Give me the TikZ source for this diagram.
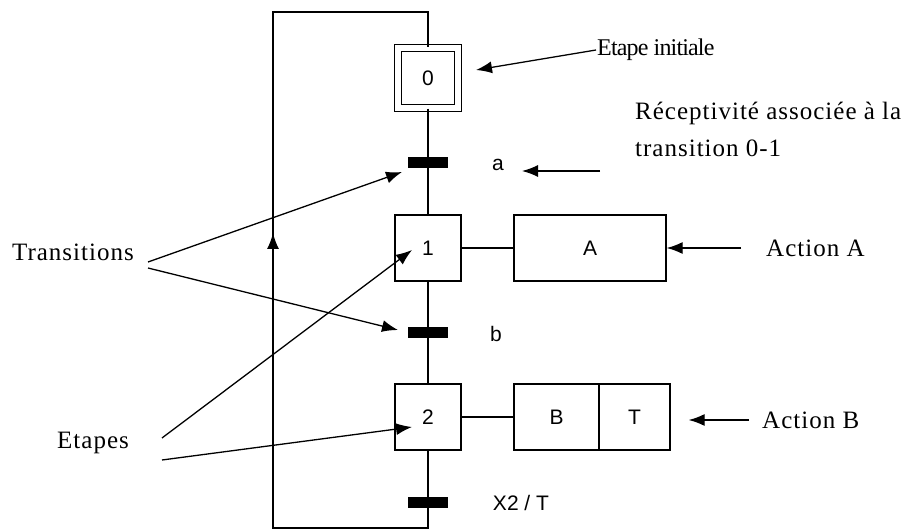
\documentclass[tikz,border=0pt]{standalone}
\usepackage{fontspec}
\setmainfont{Liberation Serif}
\setsansfont{Liberation Sans}
\usetikzlibrary{arrows.meta}

\tikzset{
  lien/.style={line width=1.3pt},
  fleche/.style={line width=1.3pt,-{Latex[length=16pt,width=12pt]}},
  etape/.style={draw,line width=1.3pt,minimum width=66pt,minimum height=66pt,inner sep=0pt,
    font=\sffamily\fontsize{21}{25}\selectfont},
  etapeinit/.style={etape,minimum width=60pt,minimum height=60pt,double,double distance=5.5pt},
  trans/.style={fill=black,minimum width=40pt,minimum height=11pt,inner sep=0pt},
  action/.style={draw,line width=1.3pt,minimum height=66pt,inner sep=0pt,
    font=\sffamily\fontsize{21}{25}\selectfont},
  recep/.style={inner sep=1pt,font=\sffamily\fontsize{21}{25}\selectfont},
  note/.style={inner sep=1pt,font=\fontsize{25}{37}\selectfont\addfontfeature{LetterSpace=4}}
}

\begin{document}
\begin{tikzpicture}[x=1pt,y=1pt,yscale=-1]
\useasboundingbox (0,0) rectangle (913,529);

\node[etapeinit] (e0) at (428,78) {0};
\node[etape] (e1) at (428,248) {1};
\node[etape] (e2) at (428,417) {2};
\node[action,minimum width=152pt] (actA) at (590,248) {A};
\node[action,minimum width=85pt] (actB) at (556.5,417) {B};
\node[action,minimum width=71pt] (actT) at (634.5,417) {T};

\coordinate (bd) at (428,528);
\coordinate (bg) at (273,528);
\coordinate (hg) at (273,12);
\coordinate (hd) at (428,12);
\coordinate (mg) at (273,233);

\draw[lien] (e0) -- (e1);
\draw[lien] (e1) -- (e2);
\draw[lien] (e2) -- (bd) -- (bg) -- (hg) -- (hd) -- (e0);
\draw[fleche] (bg) -- (mg);
\draw[lien] (e1) -- (actA);
\draw[lien] (e2) -- (actB);

\node[trans] (t01) at (428,162.5) {};
\node[trans] (t12) at (428,332.5) {};
\node[trans] (t20) at (428,502.5) {};

\node[recep] (la) at (498,165) {a};
\node[recep] (lb) at (496,334) {b};
\node[recep] (lx) at (521,503) {X2 / T};

\node[note,anchor=west,font=\fontsize{24}{28}\selectfont\addfontfeature{LetterSpace=-3.5}] (lblinit) at (596,50) {Etape initiale};
\node[note,anchor=north west,align=left] (lblrecep) at (634,101) {Réceptivité associée à la\\transition 0-1};
\node[note,anchor=west] (lblA) at (765,248) {Action A};
\node[note,anchor=west] (lblB) at (761,420) {Action B};
\node[note] (lbltrans) at (73,252) {Transitions};
\node[note] (lbletapes) at (93,443) {Etapes};

\coordinate (pinit) at (476,70);
\coordinate (recepd) at (600,171);
\coordinate (recepg) at (522,171);
\coordinate (ta) at (148,262);
\coordinate (tb) at (148,268);
\coordinate (pa) at (402,172);
\coordinate (pb) at (398,330);
\coordinate (ea) at (162,438);
\coordinate (eb) at (162,460);
\coordinate (p1) at (412,250);
\coordinate (p2) at (412,427);

\draw[fleche] (lblinit.west) -- (pinit);
\draw[fleche] (recepd) -- (recepg);
\draw[fleche] ([xshift=-24pt]lblA.west) -- (actA.east);
\draw[fleche] ([xshift=-12pt]lblB.west) -- ([xshift=18pt]actT.east |- lblB.west);
\draw[fleche] (ta) -- (pa);
\draw[fleche] (tb) -- (pb);
\draw[fleche] (ea) -- (p1);
\draw[fleche] (eb) -- (p2);
\end{tikzpicture}
\end{document}
